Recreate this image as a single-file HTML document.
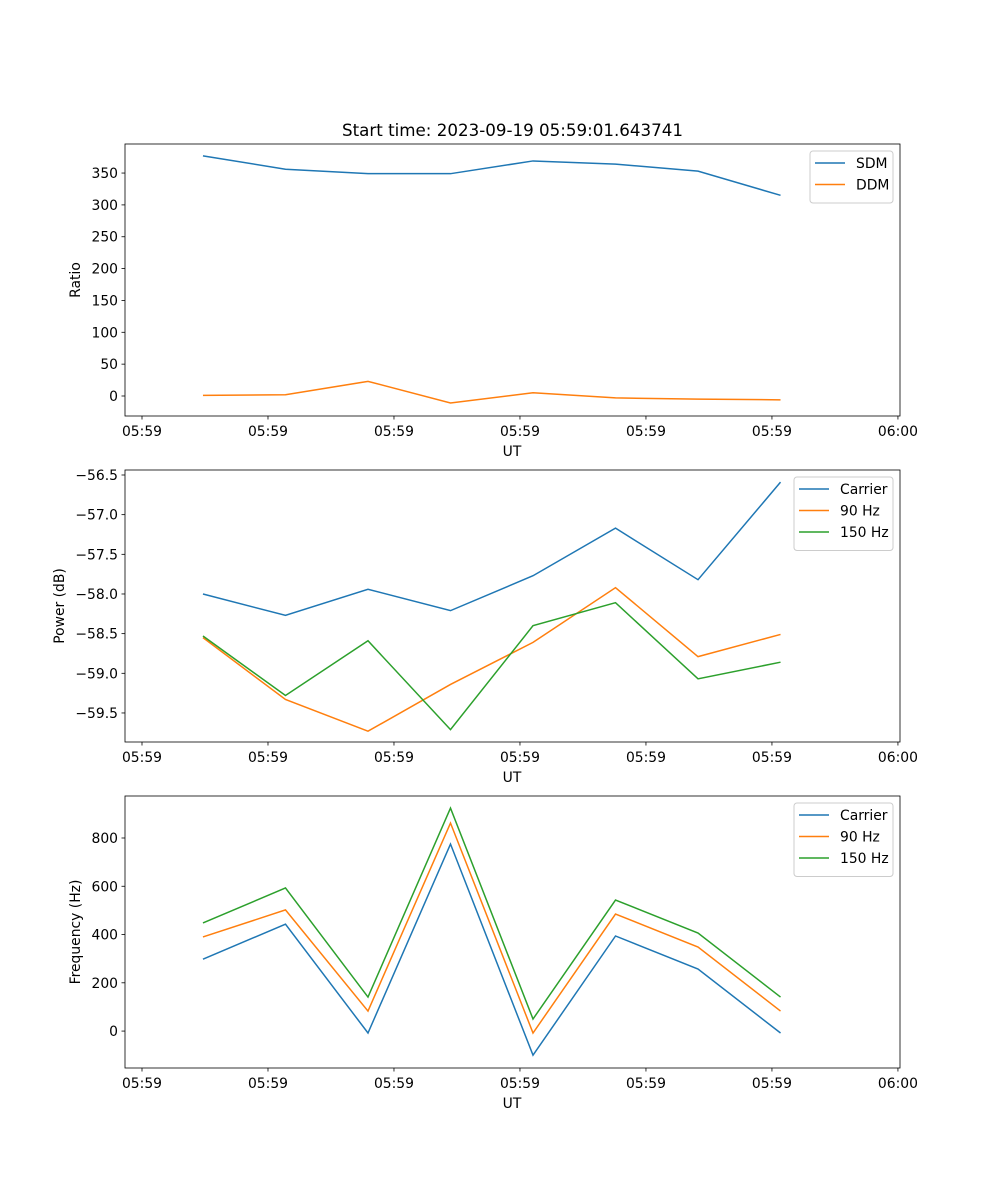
<!DOCTYPE html>
<html><head><meta charset="utf-8"><style>
body{margin:0;background:#fff;}
svg{display:block;font-family:"DejaVu Sans","Liberation Sans",sans-serif;}
</style></head><body>
<svg id="fig" width="1000" height="1200" xmlns="http://www.w3.org/2000/svg">
<rect width="1000" height="1200" fill="#fff"/>
<text x="512.5" y="136" font-size="16.7" text-anchor="middle">Start time: 2023-09-19 05:59:01.643741</text>
</svg>
<script>
const xTickLabels = ["05:59","05:59","05:59","05:59","05:59","05:59","06:00"];
const sdm = [377,356,349,349,369,364,353,315];
const ddm = [1,2,23,-11,5,-3,-5,-6];
const powCarrier = [-58.0,-58.27,-57.94,-58.21,-57.77,-57.17,-57.82,-56.59];
const pow90 = [-58.55,-59.33,-59.73,-59.14,-58.61,-57.92,-58.79,-58.51];
const pow150 = [-58.53,-59.28,-58.59,-59.71,-58.40,-58.11,-59.07,-58.86];
const freqCarrier = [298,443,-8,775,-100,394,257,-8];
const freq90 = [390,502,83,862,-8,485,348,83];
const freq150 = [448,593,141,924,50,543,406,141];
const ticks1 = [0,50,100,150,200,250,300,350];
const ticks2 = [-59.5,-59.0,-58.5,-58.0,-57.5,-57.0,-56.5];
const ticks3 = [0,200,400,600,800];

const NS="http://www.w3.org/2000/svg";
const svg=document.getElementById('fig');
function el(tag,attrs,parent){const e=document.createElementNS(NS,tag);for(const k in attrs)e.setAttribute(k,attrs[k]);(parent||svg).appendChild(e);return e;}
const L=125,R=900,xmin=-0.945,xmax=8.448;
const xs=i=>L+(i-xmin)/(xmax-xmin)*(R-L);
const xTickIdx=[0,1,2,3,4,5,6].map(k=>-0.739+1.527*k);
const C=['#1f77b4','#ff7f0e','#2ca02c'];
const FS=13.9;

function panel(name,top,ymin,ymax,yticks,fmt,ylabel,ylx,series,labels,legW){
  const B=top+272;
  const ys=v=>B-(v-ymin)/(ymax-ymin)*272;
  const g=el('g',{},svg);
  
  
  yticks.forEach(t=>{const y=ys(t);
    const ln=el('line',{x1:L-3.5,x2:L,y1:y,y2:y,stroke:'#000','stroke-width':0.8},g);
    
    const tx=el('text',{x:L-7,y:y+5,'font-size':FS,'text-anchor':'end'},g);tx.textContent=fmt(t);
    });
  xTickIdx.forEach((t,k)=>{const x=xs(t);
    const ln=el('line',{x1:x,x2:x,y1:B,y2:B+3.5,stroke:'#000','stroke-width':0.8},g);
    
    const tx=el('text',{x:x,y:B+20,'font-size':FS,'text-anchor':'middle'},g);tx.textContent=xTickLabels[k];
    });
  const xl=el('text',{x:512,y:B+40,'font-size':FS,'text-anchor':'middle'},g);xl.textContent='UT';
  
  const yl=el('text',{x:0,y:0,'font-size':FS,'text-anchor':'middle',transform:`translate(${ylx},${top+136}) rotate(-90)`},g);yl.textContent=ylabel;
  
  series.forEach((s,j)=>{
    const p=el('polyline',{points:s.map((v,i)=>xs(i)+','+ys(v)).join(' '),fill:'none',stroke:C[j],'stroke-width':1.5},g);
    
    });
  const fr=el('rect',{x:L,y:top,width:R-L,height:272,fill:'none',stroke:'#000','stroke-width':0.8},g);
  
  const lx=893-legW, ly=top+7, lh=labels.length*21.5+9;
  const lg=el('g',{},g);
  
  el('rect',{x:lx,y:ly,width:legW,height:lh,rx:3,fill:'#fff',stroke:'#ccc','stroke-width':1},lg);
  labels.forEach((lab,j)=>{const y=ly+12+21.5*j;
    const e=el('g',{},lg);
    
    el('line',{x1:lx+5,x2:lx+35,y1:y,y2:y,stroke:C[j],'stroke-width':1.5},e);
    const t=el('text',{x:lx+46,y:y+5,'font-size':FS},e);t.textContent=lab;});
}
panel('ratio-panel',144,-31.4,395.6,ticks1,v=>String(v),'Ratio',80,[sdm,ddm],['SDM','DDM'],83);
panel('power-panel',470,-59.866,-56.437,ticks2,v=>'\u2212'+Math.abs(v).toFixed(1),'Power (dB)',64,[powCarrier,pow90,pow150],['Carrier','90 Hz','150 Hz'],99);
panel('frequency-panel',796,-153,974,ticks3,v=>String(v),'Frequency (Hz)',80,[freqCarrier,freq90,freq150],['Carrier','90 Hz','150 Hz'],99);
</script>
</body></html>
